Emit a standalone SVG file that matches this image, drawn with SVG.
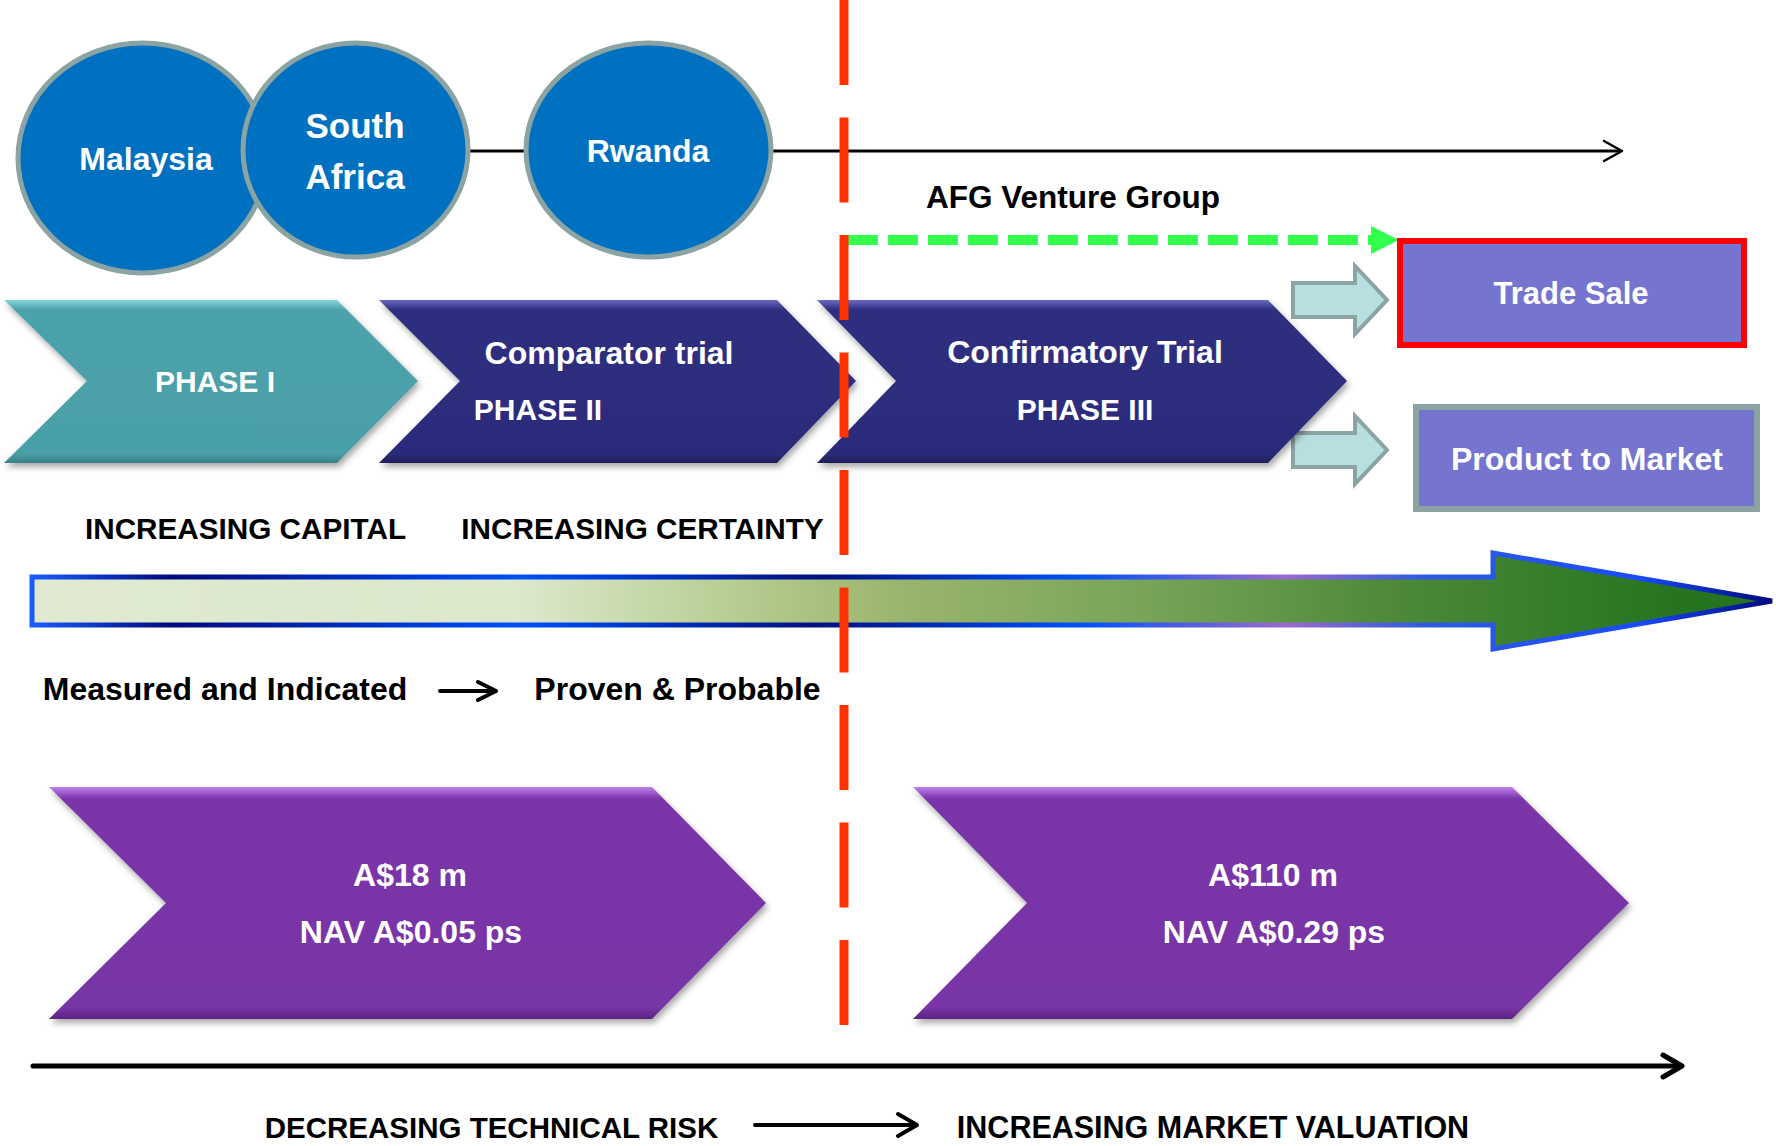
<svg xmlns="http://www.w3.org/2000/svg" width="1776" height="1146" viewBox="0 0 1776 1146">
<style>
  text { font-family: "Liberation Sans", Arial, sans-serif; font-weight: bold; }
  .w { fill: #ffffff; text-anchor: middle; }
  .k { fill: #000000; text-anchor: middle; }
  .ell { fill: #0070c0; stroke: #8ba3a3; stroke-width: 5; }
  .blk { fill: #b8dfe0; stroke: #8aa3a3; stroke-width: 4; }
  .ln { fill: none; stroke: #000; stroke-linecap: round; stroke-linejoin: round; }
</style>
<defs>
  <filter id="sh" x="-5%" y="-5%" width="115%" height="125%">
    <feDropShadow dx="2" dy="4" stdDeviation="3" flood-color="#000" flood-opacity="0.35"/>
  </filter>
  <linearGradient id="gTeal" x1="0" y1="0" x2="0" y2="1">
    <stop offset="0" stop-color="#86d4dc"/>
    <stop offset="0.06" stop-color="#4ca2aa"/>
    <stop offset="0.94" stop-color="#4a9fa8"/>
    <stop offset="1" stop-color="#3a8088"/>
  </linearGradient>
  <linearGradient id="gNavy" x1="0" y1="0" x2="0" y2="1">
    <stop offset="0" stop-color="#6a6ac4"/>
    <stop offset="0.06" stop-color="#2e2e80"/>
    <stop offset="0.94" stop-color="#2c2c7c"/>
    <stop offset="1" stop-color="#1e1e5a"/>
  </linearGradient>
  <linearGradient id="gPurp" x1="0" y1="0" x2="0" y2="1">
    <stop offset="0" stop-color="#c080f0"/>
    <stop offset="0.05" stop-color="#7a36a8"/>
    <stop offset="0.95" stop-color="#7835a6"/>
    <stop offset="1" stop-color="#5a2480"/>
  </linearGradient>
  <linearGradient id="gFill" gradientUnits="userSpaceOnUse" x1="32" y1="0" x2="1772" y2="0">
    <stop offset="0" stop-color="#dfead0"/>
    <stop offset="0.28" stop-color="#dce8cc"/>
    <stop offset="0.38" stop-color="#bdd39c"/>
    <stop offset="0.5" stop-color="#9ab56d"/>
    <stop offset="0.64" stop-color="#78a458"/>
    <stop offset="0.78" stop-color="#4d8a3a"/>
    <stop offset="0.95" stop-color="#24731f"/>
  </linearGradient>
  <linearGradient id="gStroke" gradientUnits="userSpaceOnUse" x1="32" y1="0" x2="1772" y2="0">
    <stop offset="0" stop-color="#1a5cff"/>
    <stop offset="0.08" stop-color="#000a7d"/>
    <stop offset="0.28" stop-color="#0050ff"/>
    <stop offset="0.45" stop-color="#001080"/>
    <stop offset="0.6" stop-color="#0050ff"/>
    <stop offset="0.72" stop-color="#9a6acc"/>
    <stop offset="0.8" stop-color="#2f5be0"/>
    <stop offset="0.92" stop-color="#1a4cff"/>
    <stop offset="1" stop-color="#000a7d"/>
  </linearGradient>
</defs>

<g id="connectors">
  <path class="ln" d="M468,151 H526 M771,151 H1620" stroke-width="3"/>
  <path class="ln" d="M1604,141 L1622,151 L1604,161" stroke-width="2.5"/>
  <path d="M848,240 H1372" stroke="#33ff4d" stroke-width="10" stroke-dasharray="30 10" fill="none"/>
  <polygon points="1371,226 1399,240 1371,254" fill="#33ff4d"/>
  <polygon class="blk" points="1293,283 1355,283 1355,266 1387,300 1355,334 1355,317 1293,317"/>
  <polygon class="blk" points="1293,433 1355,433 1355,416 1387,450 1355,484 1355,467 1293,467"/>
  <path class="ln" d="M440,691 H495" stroke-width="4"/>
  <path class="ln" d="M478,682 L496,691 L478,700" stroke-width="4"/>
  <path class="ln" d="M33,1066 H1680" stroke-width="5"/>
  <path class="ln" d="M1663,1055 L1682,1066 L1663,1077" stroke-width="5"/>
  <path class="ln" d="M755,1125 H915" stroke-width="4"/>
  <path class="ln" d="M898,1114 L917,1125 L898,1136" stroke-width="4"/>
</g>

<g id="node-malaysia">
  <ellipse class="ell" cx="142.5" cy="158" rx="124.5" ry="115"/>
  <text class="w" x="146" y="170" font-size="32">Malaysia</text>
</g>
<g id="node-south-africa">
  <ellipse class="ell" cx="355.5" cy="150" rx="112.5" ry="107"/>
  <text class="w" x="355" y="138" font-size="35">South</text>
  <text class="w" x="355" y="189" font-size="35">Africa</text>
</g>
<g id="node-rwanda">
  <ellipse class="ell" cx="648.5" cy="150" rx="122.5" ry="107"/>
  <text class="w" x="648" y="162" font-size="32">Rwanda</text>
</g>

<g id="label-afg">
  <text class="k" x="1073" y="208" font-size="31.5">AFG Venture Group</text>
</g>

<g id="node-trade-sale">
  <rect x="1400" y="241" width="344" height="104" fill="#7575cf" stroke="#ff0000" stroke-width="6"/>
  <text class="w" x="1571" y="304" font-size="31">Trade Sale</text>
</g>
<g id="node-product-market">
  <rect x="1416" y="407" width="341" height="102" fill="#7575cf" stroke="#8ba3a3" stroke-width="6"/>
  <text class="w" x="1587" y="470" font-size="32">Product to Market</text>
</g>

<g id="node-phase1">
  <polygon points="4,300 337,300 418,381 337,463 4,463 87,381" fill="url(#gTeal)" filter="url(#sh)"/>
  <text class="w" x="215" y="392" font-size="30">PHASE I</text>
</g>
<g id="node-phase2">
  <polygon points="379,300 777,300 856,381 777,463 379,463 460,381" fill="url(#gNavy)" filter="url(#sh)"/>
  <text class="w" x="609" y="364" font-size="32">Comparator trial</text>
  <text class="w" x="538" y="420" font-size="30">PHASE II</text>
</g>
<g id="node-phase3">
  <polygon points="817,300 1268,300 1347,381 1268,463 817,463 896,381" fill="url(#gNavy)" filter="url(#sh)"/>
  <text class="w" x="1085" y="363" font-size="32">Confirmatory Trial</text>
  <text class="w" x="1085" y="420" font-size="30">PHASE III</text>
</g>

<g id="labels-increasing">
  <text class="k" x="245.5" y="539" font-size="29.7">INCREASING CAPITAL</text>
  <text class="k" x="642.5" y="539" font-size="29.7">INCREASING CERTAINTY</text>
</g>

<g id="node-big-arrow">
  <polygon points="32,577 1493,577 1493,553 1772,601 1493,649 1493,625 32,625" fill="url(#gFill)" stroke="url(#gStroke)" stroke-width="5" stroke-linejoin="miter"/>
</g>

<g id="labels-reserves">
  <text class="k" x="225" y="700" font-size="32">Measured and Indicated</text>
  <text class="k" x="677.5" y="700" font-size="32">Proven &amp; Probable</text>
</g>

<g id="node-value1">
  <polygon points="49,787 652,787 766,903 652,1019 49,1019 166,903" fill="url(#gPurp)" filter="url(#sh)"/>
  <text class="w" x="410" y="886" font-size="32">A$18 m</text>
  <text class="w" x="411" y="943" font-size="32">NAV A$0.05 ps</text>
</g>
<g id="node-value2">
  <polygon points="913,787 1512,787 1629,903 1512,1019 913,1019 1027,903" fill="url(#gPurp)" filter="url(#sh)"/>
  <text class="w" x="1273" y="886" font-size="32">A$110 m</text>
  <text class="w" x="1274" y="943" font-size="32">NAV A$0.29 ps</text>
</g>

<g id="labels-bottom">
  <text class="k" x="491.5" y="1138" font-size="29.5">DECREASING TECHNICAL RISK</text>
  <text class="k" x="1213" y="1138" font-size="30.5">INCREASING MARKET VALUATION</text>
</g>

<g id="divider">
  <line x1="844" y1="0" x2="844" y2="1025" stroke="#ff3300" stroke-width="9" stroke-dasharray="85 32.5"/>
</g>
</svg>
